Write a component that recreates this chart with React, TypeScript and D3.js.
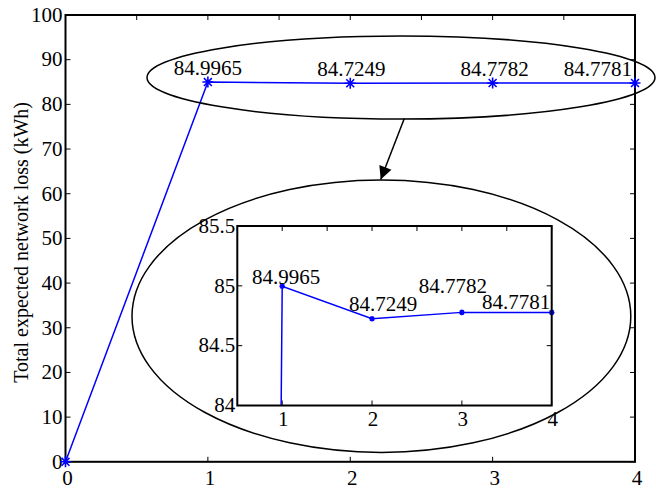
import React from 'react';
import * as d3 from 'd3';

// iteration index and total expected network loss (kWh)
const iterations = [0, 1, 2, 3, 4];
const lossValues = [0, 84.9965, 84.7249, 84.7782, 84.7781];

const mainXTicks = [0, 1, 2, 3, 4];
const mainXMinorTop = [0, 0.5, 1, 1.5, 2, 2.5, 3, 3.5, 4];
const mainYTicks = [0, 10, 20, 30, 40, 50, 60, 70, 80, 90, 100];

const insetXTicks = [1, 2, 3, 4];
const insetXMinorTop = [0.5, 1, 1.5, 2, 2.5, 3, 3.5, 4];
const insetYTicks = [84, 84.5, 85, 85.5];

const yLabel = 'Total expected network loss (kWh)';

// label offsets (px) relative to each point, skipping the origin
const mainLabelOffsets = [
  { dx: 0, dy: -7, anchor: 'middle' },
  { dx: 1, dy: -7, anchor: 'middle' },
  { dx: 2, dy: -7, anchor: 'middle' },
  { dx: -3, dy: -7, anchor: 'end' },
];
const insetLabelOffsets = [
  { dx: 4, dy: -2, anchor: 'middle' },
  { dx: 11, dy: -8, anchor: 'middle' },
  { dx: -9, dy: -19, anchor: 'middle' },
  { dx: -1.5, dy: -3, anchor: 'end' },
];

const W = 656;
const H = 490;
const FONT = "'Liberation Serif', 'DejaVu Serif', serif";
const BLUE = '#0000ff';

const star = (r: number) => {
  const k = r * 0.72;
  return `M${-r},0L${r},0M0,${-r}L0,${r}M${-k},${-k}L${k},${k}M${-k},${k}L${k},${-k}`;
};

const App = () => {
  const x = d3.scaleLinear().domain([0, 4]).range([65.5, 635]);
  const y = d3.scaleLinear().domain([0, 100]).range([461.8, 15]);

  const ix = d3.scaleLinear().domain([0.5, 4]).range([237.3, 551.7]);
  const iy = d3.scaleLinear().domain([84, 85.5]).range([405.5, 226]);

  const pts = iterations.map((it, i) => ({ it, v: lossValues[i] }));

  const mainLine = d3
    .line<{ it: number; v: number }>()
    .x((d) => x(d.it))
    .y((d) => y(d.v));
  const insetLine = d3
    .line<{ it: number; v: number }>()
    .x((d) => ix(d.it))
    .y((d) => iy(d.v));

  const [x0, x1] = x.range();
  const [y0, y1] = y.range();
  const [ix0, ix1] = ix.range();
  const [iy0, iy1] = iy.range();
  const tl = 5;

  return (
    <svg
      width={W}
      height={H}
      style={{ position: 'absolute', left: 0, top: 0, background: '#fff', fontFamily: FONT, fontSize: 21 }}
    >
      <defs>
        <clipPath id="insetClip">
          <rect x={ix0} y={iy1} width={ix1 - ix0} height={iy0 - iy1} />
        </clipPath>
        <marker
          id="arrowHead"
          viewBox="0 0 10 10"
          refX={10}
          refY={5}
          markerWidth={16}
          markerHeight={13}
          markerUnits="userSpaceOnUse"
          orient="auto"
        >
          <path d="M0,0L10,5L0,10z" fill="#000" />
        </marker>
      </defs>

      {/* main axes ticks */}
      {mainXTicks.map((t) => (
        <g key={`bx${t}`}>
          <line x1={x(t)} x2={x(t)} y1={y0} y2={y0 - tl} stroke="#000" strokeWidth={1} />
          <text x={x(t) + 2} y={y0 + 23} textAnchor="middle">
            {t}
          </text>
        </g>
      ))}
      {mainXMinorTop.map((t) => (
        <line key={`tx${t}`} x1={x(t)} x2={x(t)} y1={y1} y2={y1 + tl} stroke="#000" strokeWidth={1} />
      ))}
      {mainYTicks.map((t) => (
        <g key={`y${t}`}>
          <line x1={x0} x2={x0 + tl} y1={y(t)} y2={y(t)} stroke="#000" strokeWidth={1} />
          <line x1={x1} x2={x1 - tl} y1={y(t)} y2={y(t)} stroke="#000" strokeWidth={1} />
          <text x={x0 - 3} y={y(t) + 6.8} textAnchor="end">
            {t}
          </text>
        </g>
      ))}
      <rect x={x0} y={y1} width={x1 - x0} height={y0 - y1} fill="none" stroke="#000" strokeWidth={2} />

      <text
        transform={`translate(28,${(y0 + y1) / 2 + 4}) rotate(-90)`}
        textAnchor="middle"
        style={{ fontSize: 20 }}
      >
        {yLabel}
      </text>

      {/* main series */}
      <path d={mainLine(pts) || ''} fill="none" stroke={BLUE} strokeWidth={1.5} />
      {pts.map((d) => (
        <path
          key={`m${d.it}`}
          d={star(5.5)}
          transform={`translate(${x(d.it)},${y(d.v)})`}
          stroke={BLUE}
          strokeWidth={1.6}
          fill="none"
        />
      ))}
      {pts.slice(1).map((d, i) => (
        <text
          key={`ml${d.it}`}
          x={x(d.it) + mainLabelOffsets[i].dx}
          y={y(d.v) + mainLabelOffsets[i].dy}
          textAnchor={mainLabelOffsets[i].anchor}
        >
          {d.v.toFixed(4)}
        </text>
      ))}

      {/* annotations */}
      <ellipse cx={401} cy={77.5} rx={254} ry={41.5} fill="none" stroke="#000" strokeWidth={1.5} />
      <line
        x1={404.3}
        y1={118.5}
        x2={380.7}
        y2={179.5}
        stroke="#000"
        strokeWidth={1.5}
        markerEnd="url(#arrowHead)"
      />
      <ellipse cx={381.4} cy={316.2} rx={249.4} ry={136.2} fill="none" stroke="#000" strokeWidth={1.5} />

      {/* inset axes */}
      <rect x={ix0} y={iy1} width={ix1 - ix0} height={iy0 - iy1} fill="#fff" />
      {insetXTicks.map((t) => (
        <g key={`ibx${t}`}>
          <line x1={ix(t)} x2={ix(t)} y1={iy0} y2={iy0 - tl} stroke="#000" strokeWidth={1} />
          <text x={ix(t) + 1} y={iy0 + 20} textAnchor="middle">
            {t}
          </text>
        </g>
      ))}
      {insetXMinorTop.map((t) => (
        <line key={`itx${t}`} x1={ix(t)} x2={ix(t)} y1={iy1} y2={iy1 + tl} stroke="#000" strokeWidth={1} />
      ))}
      {insetYTicks.map((t) => (
        <g key={`iy${t}`}>
          <line x1={ix0} x2={ix0 + tl} y1={iy(t)} y2={iy(t)} stroke="#000" strokeWidth={1} />
          <line x1={ix1} x2={ix1 - tl} y1={iy(t)} y2={iy(t)} stroke="#000" strokeWidth={1} />
          <text x={ix0 - 2} y={iy(t) + 6.8} textAnchor="end">
            {t}
          </text>
        </g>
      ))}
      <g clipPath="url(#insetClip)">
        <path d={insetLine(pts) || ''} fill="none" stroke={BLUE} strokeWidth={1.5} />
      </g>
      {pts.slice(1).map((d) => (
        <path
          key={`im${d.it}`}
          d={star(2.8)}
          transform={`translate(${ix(d.it)},${iy(d.v)})`}
          stroke={BLUE}
          strokeWidth={1.5}
          fill="none"
        />
      ))}
      {pts.slice(1).map((d, i) => (
        <text
          key={`il${d.it}`}
          x={ix(d.it) + insetLabelOffsets[i].dx}
          y={iy(d.v) + insetLabelOffsets[i].dy}
          textAnchor={insetLabelOffsets[i].anchor}
        >
          {d.v.toFixed(4)}
        </text>
      ))}
      <rect x={ix0} y={iy1} width={ix1 - ix0} height={iy0 - iy1} fill="none" stroke="#000" strokeWidth={2} />
    </svg>
  );
};

export default App;
